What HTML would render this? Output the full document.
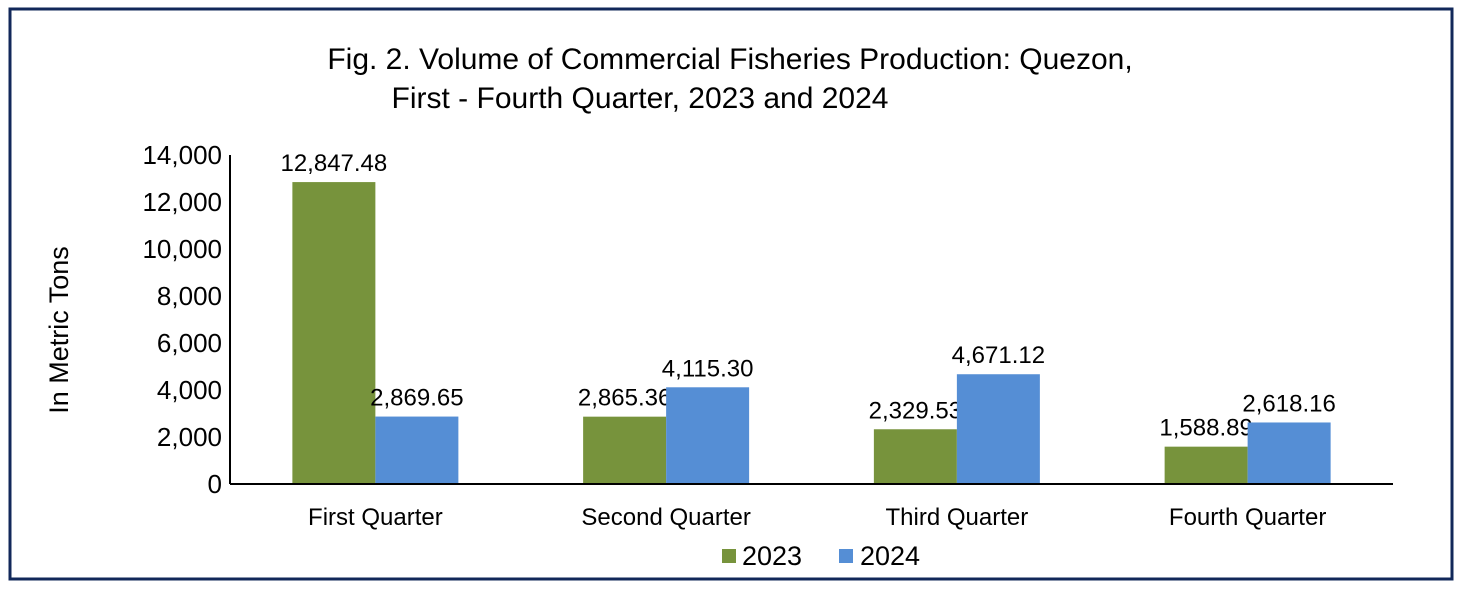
<!DOCTYPE html>
<html><head><meta charset="utf-8"><style>
html,body{margin:0;padding:0;background:#fff;}
svg{display:block;font-family:"Liberation Sans",Arial,sans-serif;}
</style></head><body>
<svg id="chart" width="1465" height="590" viewBox="0 0 1465 590">
<rect x="10" y="9" width="1442" height="570" fill="#fff" stroke="#12285a" stroke-width="3"/>
<text x="730" y="69" font-size="30" text-anchor="middle" fill="#000">Fig. 2. Volume of Commercial Fisheries  Production: Quezon,</text>
<text x="640" y="108" font-size="30" text-anchor="middle" fill="#000">First - Fourth Quarter, 2023 and 2024</text>
<text transform="translate(68,330) rotate(-90)" font-size="27" text-anchor="middle" fill="#000">In Metric Tons</text>
<g id="plot"></g>
<g>
<rect x="722" y="549" width="14" height="14" fill="#77933c"/>
<text x="742" y="565" font-size="27" fill="#000">2023</text>
<rect x="839" y="549" width="14" height="14" fill="#558ed5"/>
<text x="860" y="565" font-size="27" fill="#000">2024</text>
</g>
</svg>
<script>
const categories = ["First Quarter","Second Quarter","Third Quarter","Fourth Quarter"];
const values2023 = [12847.48, 2865.36, 2329.53, 1588.89];
const values2024 = [2869.65, 4115.30, 4671.12, 2618.16];
const yTicks = [0,2000,4000,6000,8000,10000,12000,14000];

const NS="http://www.w3.org/2000/svg";
const g=document.getElementById('plot');
const x0=230,x1=1393,yTop=155,yBot=484,yMax=14000;
const bw=(x1-x0)/categories.length, barW=83;
const y=v=>yBot-(v/yMax)*(yBot-yTop);
const fmt=v=>v.toLocaleString('en-US',{minimumFractionDigits:2,maximumFractionDigits:2});
function mk(tag,attrs,text){const e=document.createElementNS(NS,tag);for(const k in attrs)e.setAttribute(k,attrs[k]);if(text!==undefined)e.textContent=text;g.appendChild(e);return e;}

yTicks.forEach(t=>{
  const e=mk('text',{x:x0-8,y:y(t)+9,'font-size':26,'text-anchor':'end',fill:'#000'},t.toLocaleString('en-US'));
  
  
});
const series=[[values2023,'#77933c','2023'],[values2024,'#558ed5','2024']];
categories.forEach((c,i)=>{
  const cx=x0+bw*(i+0.5);
  series.forEach((s,j)=>{
    const v=s[0][i], bx=cx-barW+j*barW;
    const r=mk('rect',{x:bx,y:y(v),width:barW,height:yBot-y(v),fill:s[1]});
    
    
    const l=mk('text',{x:bx+barW/2,y:y(v)-11,'font-size':24,'text-anchor':'middle',fill:'#000'},fmt(v));
    
    
  });
  const t=mk('text',{x:cx,y:525,'font-size':24,'text-anchor':'middle',fill:'#000'},c);
  
  
});
const ya=mk('line',{x1:x0,y1:yTop,x2:x0,y2:yBot,stroke:'#000','stroke-width':2});


const xa=mk('line',{x1:x0,y1:yBot,x2:x1,y2:yBot,stroke:'#000','stroke-width':2});


</script>
</body></html>
